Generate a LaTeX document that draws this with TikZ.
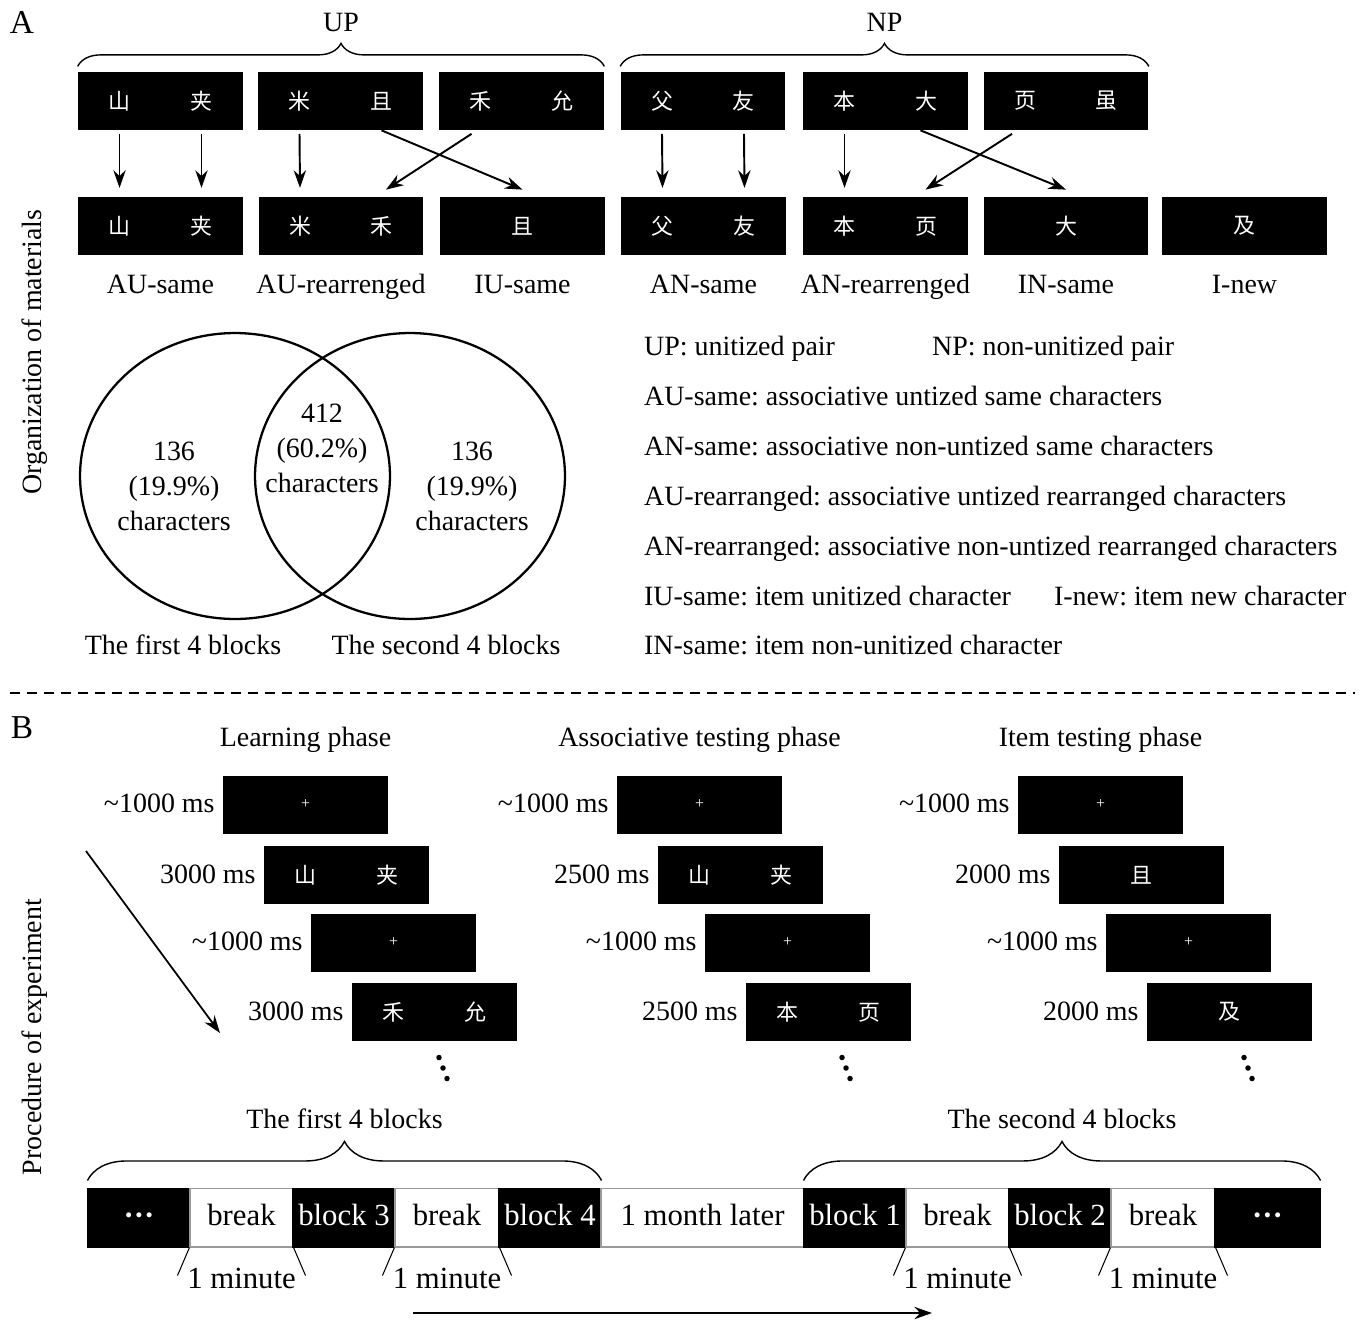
\documentclass[tikz,border=0pt]{standalone}
\usepackage{fontspec}
\setmainfont{Liberation Serif}
\newfontfamily\hanzi{Noto Sans CJK SC}
\usetikzlibrary{positioning,arrows.meta,decorations.pathreplacing,shapes.geometric}
\frenchspacing

\begin{document}
\begin{tikzpicture}[x=0.02cm,y=-0.02cm,>={Stealth[length=10pt,width=7pt]}]
	% styles
	\tikzstyle{stim} = [fill=black, text=white, inner sep=0pt, minimum width=3.3cm, minimum height=1.16cm, font=\hanzi\fontsize{12.5}{14}\selectfont]
	\tikzstyle{fix} = [stim, font=\fontsize{9}{10}\selectfont]
	\tikzstyle{vtxt} = [inner sep=1pt, font=\fontsize{15.9}{19.9}\selectfont]
	\tikzstyle{txt} = [vtxt, text height=1.16em, text depth=0.22em]
	\tikzstyle{big} = [inner sep=1pt, text height=1.16em, text depth=0.22em, font=\fontsize{17.5}{21}\selectfont]
	\tikzstyle{arr} = [->, line width=1.1pt]
	\tikzstyle{brc} = [decorate, line width=0.8pt]
	\tikzstyle{seg} = [big, line width=0.6pt, inner sep=0pt, minimum height=1.18cm]
	
	% bounding box
	\useasboundingbox (0,0) rectangle (1369,1320);
	
	% panel letters and side titles
	\node[font=\fontsize{19}{22}\selectfont] (pa) at (22,22) {A};
	\node[font=\fontsize{19}{22}\selectfont] (pb) at (22,728) {B};
	\node[vtxt, rotate=90] (side-a) at (35,352) {Organization of materials};
	\node[vtxt, rotate=90] (side-b) at (35,1037) {Procedure of experiment};
	
	% studied pairs
	\foreach \n/\x/\a/\b in {up1/160.5/山/夹, up2/340.5/米/且, up3/521.5/禾/允, np1/703/父/友, np2/885.5/本/大, np3/1066/页/虽}
	{
		\node[stim] (\n) at (\x,101) {\a\hspace{1.2cm}\b};
	}
	
	% test items
	\foreach \n/\x/\t/\l in {aus/160.5/{山\hspace{1.2cm}夹}/AU-same, aur/341/{米\hspace{1.2cm}禾}/AU-rearrenged, ius/522.5/且/IU-same, ans/703.5/{父\hspace{1.2cm}友}/AN-same, anr/885.5/{本\hspace{1.2cm}页}/AN-rearrenged, ins/1066/大/IN-same, inew/1244.5/及/I-new}
	{
		\node[stim] (\n) at (\x,226) {\t};
		\node[txt] (\n-l) at ([yshift=-0.6cm]\n.south) {\l};
	}
	
	% arrows pairs -> items
	\draw[arr] ([xshift=-0.82cm,yshift=-2pt]up1.south) -- ([xshift=-0.82cm,yshift=5pt]aus.north);
	\draw[arr] ([xshift=0.82cm,yshift=-2pt]up1.south) -- ([xshift=0.82cm,yshift=5pt]aus.north);
	\draw[arr] ([xshift=-0.82cm,yshift=-2pt]up2.south) -- ([xshift=-0.82cm,yshift=5pt]aur.north);
	\draw[arr] ([xshift=-1cm,yshift=-2pt]up3.south) -- ([xshift=0.9cm,yshift=4pt]aur.north);
	\draw[arr] ([xshift=0.82cm]up2.south) -- ([yshift=4pt]ius.north);
	\draw[arr] ([xshift=-0.82cm,yshift=-2pt]np1.south) -- ([xshift=-0.82cm,yshift=5pt]ans.north);
	\draw[arr] ([xshift=0.82cm,yshift=-2pt]np1.south) -- ([xshift=0.82cm,yshift=5pt]ans.north);
	\draw[arr] ([xshift=-0.82cm,yshift=-2pt]np2.south) -- ([xshift=-0.82cm,yshift=5pt]anr.north);
	\draw[arr] ([xshift=-1.08cm,yshift=-2pt]np3.south) -- ([xshift=0.8cm,yshift=4pt]anr.north);
	\draw[arr] ([xshift=0.7cm]np2.south) -- ([yshift=4pt]ins.north);
	
	% braces
	\draw[brc, decoration={brace, amplitude=0.46cm}] ([yshift=3pt]up1.north west) -- ([yshift=3pt]up3.north east) node[txt, midway, above=0.58cm] (up-l) {UP};
	\draw[brc, decoration={brace, amplitude=0.46cm}] ([yshift=3pt]np1.north west) -- ([yshift=3pt]np3.north east) node[txt, midway, above=0.58cm] (np-l) {NP};
	
	% venn diagram
	\node[draw, ellipse, line width=1.3pt, inner sep=0pt, minimum width=6.2cm, minimum height=5.72cm] (first) at (235,476) {};
	\node[draw, ellipse, line width=1.3pt, inner sep=0pt, minimum width=6.2cm, minimum height=5.72cm] (second) at (410,476) {};
	\node[vtxt, align=center] (only1) at (174,486) {136\\(19.9\%)\\characters};
	\node[vtxt, align=center] (both) at (322,448) {412\\(60.2\%)\\characters};
	\node[vtxt, align=center] (only2) at (472,486) {136\\(19.9\%)\\characters};
	\node[txt] (first-l) at (183,646) {The first 4 blocks};
	\node[txt] (second-l) at (446,646) {The second 4 blocks};
	
	% legend
	\node[txt, anchor=west] (leg1) at (642,347) {UP: unitized pair};
	\node[txt, anchor=west] (leg2) at (930,347) {NP: non-unitized pair};
	\foreach \y/\t [count=\i from 3] in {397/AU-same: associative untized same characters, 447/AN-same: associative non-untized same characters, 497/AU-rearranged: associative untized rearranged characters, 547/AN-rearranged: associative non-untized rearranged characters, 597/IU-same: item unitized character, 646/IN-same: item non-unitized character}
	{
		\node[txt, anchor=west] (leg\i) at (642,\y) {\t};
	}
	\node[txt, anchor=west] (leg9) at (1052,597) {I-new: item new character};
	
	% separator
	\draw[line width=1pt, dash pattern=on 0.2cm off 0.14cm] (10,693) -- (1355,693);
	
	% phases
	\foreach \p/\x/\d/\ttl/\sa/\sb in {lp/223/3000/Learning phase/{山\hspace{1.2cm}夹}/{禾\hspace{1.2cm}允}, ap/617/2500/Associative testing phase/{山\hspace{1.2cm}夹}/{本\hspace{1.2cm}页}, ip/1018/2000/Item testing phase/且/及}
	{
		\node[txt] (\p-t) at (\x+82.5,738) {\ttl};
		\node[fix] (\p1) at (\x+82.5,804.5) {+};
		\node[stim] (\p2) at (\x+123.5,875) {\sa};
		\node[fix] (\p3) at (\x+170.5,942.5) {+};
		\node[stim] (\p4) at (\x+211.5,1012) {\sb};
		\node[txt, left=0.12cm of \p1] (\p1-l) {\textasciitilde1000 ms};
		\node[txt, left=0.12cm of \p2] (\p2-l) {\d\ ms};
		\node[txt, left=0.12cm of \p3] (\p3-l) {\textasciitilde1000 ms};
		\node[txt, left=0.12cm of \p4] (\p4-l) {\d\ ms};
	}
	
	% more trials
	\foreach \x in {443,846,1248}
	\foreach \k in {-1,0,1}
	{
		\fill (\x+4*\k,1068+10.5*\k) circle (0.055cm);
	}
	
	% time arrow
	\coordinate (tr-a) at (86,851);
	\coordinate (tr-b) at (220,1033);
	\draw[arr, line width=1pt] (tr-a) -- (tr-b);
	
	% timeline
	\foreach \n/\l/\r/\fc/\tc/\t in {t1/88/190/black/white/{\bfseries ···}, t2/190/293/white/black/break, t3/293/395/black/white/block 3, t4/395/499/white/black/break, t5/499/601/black/white/block 4, t6/601/804/white/black/1 month later, t7/804/906/black/white/block 1, t8/906/1009/white/black/break, t9/1009/1111/black/white/block 2, t10/1111/1215/white/black/break, t11/1215/1320/black/white/{\bfseries ···}}
	{
		\node[seg, fill=\fc, draw=\fc!60!black, text=\tc, minimum width={(\r-\l)*0.02cm}] (\n) at ({(\l+\r)/2},1217.5) {\t};
	}
	
	% breaks
	\foreach \n in {t2,t4,t8,t10}
	{
		\draw[line width=0.6pt] (\n.south west) -- ++(-12,28);
		\draw[line width=0.6pt] (\n.south east) -- ++(12,28);
		\node[big] (\n-m) at ([yshift=-0.66cm]\n.south) {1 minute};
	}
	
	% block braces
	\draw[brc, decoration={brace, amplitude=0.78cm}] ([yshift=4pt]t1.north west) -- ([yshift=4pt]t5.north east) node[txt, midway, above=0.92cm] (fb-l) {The first 4 blocks};
	\draw[brc, decoration={brace, amplitude=0.78cm}] ([yshift=4pt]t7.north west) -- ([yshift=4pt]t11.north east) node[txt, midway, above=0.92cm] (sb-l) {The second 4 blocks};
	
	% time direction
	\coordinate (tl-a) at (413,1313);
	\coordinate (tl-b) at (932,1313);
	\draw[arr] (tl-a) -- (tl-b);
\end{tikzpicture}
\end{document}
